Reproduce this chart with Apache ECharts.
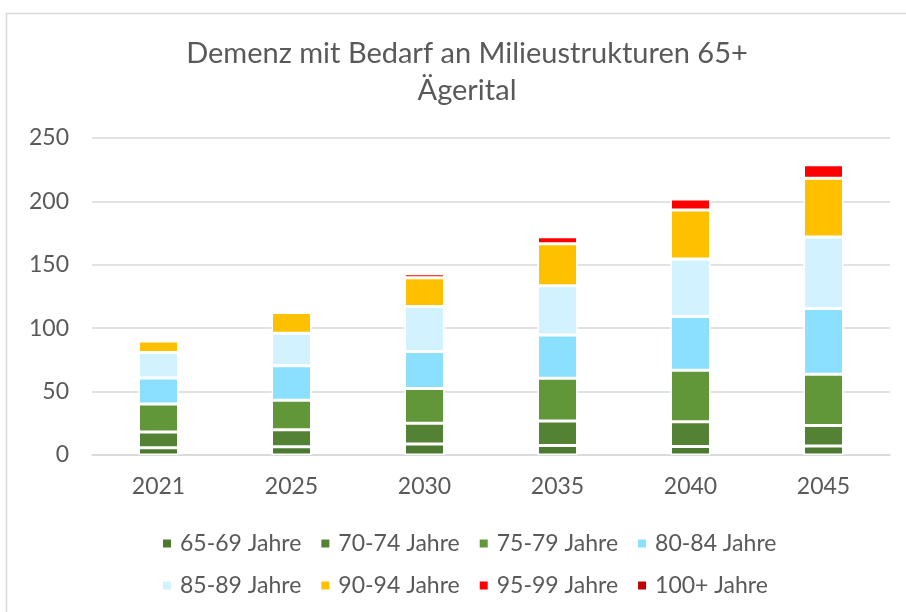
<!DOCTYPE html>
<html>
<head>
<meta charset="utf-8">
<script src="https://cdn.jsdelivr.net/npm/echarts@6/dist/echarts.min.js"></script>
<style>
  html, body { margin: 0; padding: 0; background: #fff; }
  #chart { width: 906px; height: 612px; }
</style>
</head>
<body>
<div id="chart"></div>
<script>
// Daten
var years = ['2021', '2025', '2030', '2035', '2040', '2045']
var yTicks = [0, 50, 100, 150, 200, 250]
var age6569 = [5.8, 6.6, 8.7, 7.4, 6.8, 7.1]
var age7074 = [12.4, 13.4, 16.3, 19.4, 19.5, 16.1]
var age7579 = [22.1, 23.2, 27.4, 33.7, 40.6, 40.5]
var age8084 = [20.5, 27.1, 29.2, 34.2, 42.3, 51.8]
var age8589 = [20.0, 25.8, 35.5, 38.7, 45.3, 56.4]
var age9094 = [9.2, 16.3, 22.7, 33.2, 38.7, 46.3]
var age9599 = [0, 0, 3.1, 5.5, 8.7, 10.8]
var age100 = [0, 0, 0, 0, 0, 0]

var seriesNames = ['65-69 Jahre', '70-74 Jahre', '75-79 Jahre', '80-84 Jahre',
	'85-89 Jahre', '90-94 Jahre', '95-99 Jahre', '100+ Jahre']
var seriesData = [age6569, age7074, age7579, age8084, age8589, age9094, age9599, age100]
var colors = ['#4D7A31', '#548235', '#619639', '#8BE0FF', '#D2F2FF', '#FFC000', '#FF0000', '#C00000']

var font = 'Lato'
var textColor = '#595959'

var myChart = echarts.init(document.getElementById('chart'))

var legendBase = {
	orient: 'horizontal',
	left: 156,
	itemWidth: 10,
	itemHeight: 10,
	itemGap: 18,
	icon: 'rect',
	textStyle: { color: textColor, fontSize: 23, fontFamily: font, padding: [0, 0, 0, 3] }
}

var option = {
	animation: false,
	color: colors,
	graphic: [{
		type: 'rect',
		shape: { x: 6.5, y: 13.5, width: 1000, height: 1000 },
		style: { fill: 'none', stroke: '#D9D9D9', lineWidth: 1.5 },
		silent: true
	}],
	title: {
		text: 'Demenz mit Bedarf an Milieustrukturen 65+\nÄgerital',
		left: 462,
		textAlign: 'center',
		top: 30,
		textStyle: {
			color: textColor,
			fontSize: 29,
			fontWeight: 'normal',
			fontFamily: font,
			lineHeight: 37
		}
	},
	legend: [
		Object.assign({}, legendBase, { top: 527, data: seriesNames.slice(0, 4) }),
		Object.assign({}, legendBase, { top: 569, data: seriesNames.slice(4) })
	],
	grid: {
		left: 92,
		right: 16,
		top: 138,
		bottom: 157,
		containLabel: false
	},
	xAxis: {
		type: 'category',
		data: years,
		axisTick: { show: false },
		axisLine: { lineStyle: { color: '#D9D9D9', width: 1.5 } },
		axisLabel: { color: textColor, fontSize: 23, fontFamily: font, margin: 20 }
	},
	yAxis: {
		type: 'value',
		min: yTicks[0],
		max: yTicks[yTicks.length - 1],
		interval: 50,
		axisLine: { show: false },
		axisTick: { show: false },
		splitLine: { lineStyle: { color: '#D9D9D9', width: 1.5 } },
		axisLabel: { color: textColor, fontSize: 23, fontFamily: font, margin: 23 }
	},
	series: seriesNames.map(function (name, i) {
		return {
			name: name,
			type: 'bar',
			stack: 'total',
			barWidth: 40,
			data: seriesData[i],
			itemStyle: { color: colors[i], borderColor: '#ffffff', borderWidth: 1.5 }
		}
	})
}
myChart.setOption(option)
</script>
</body>
</html>
